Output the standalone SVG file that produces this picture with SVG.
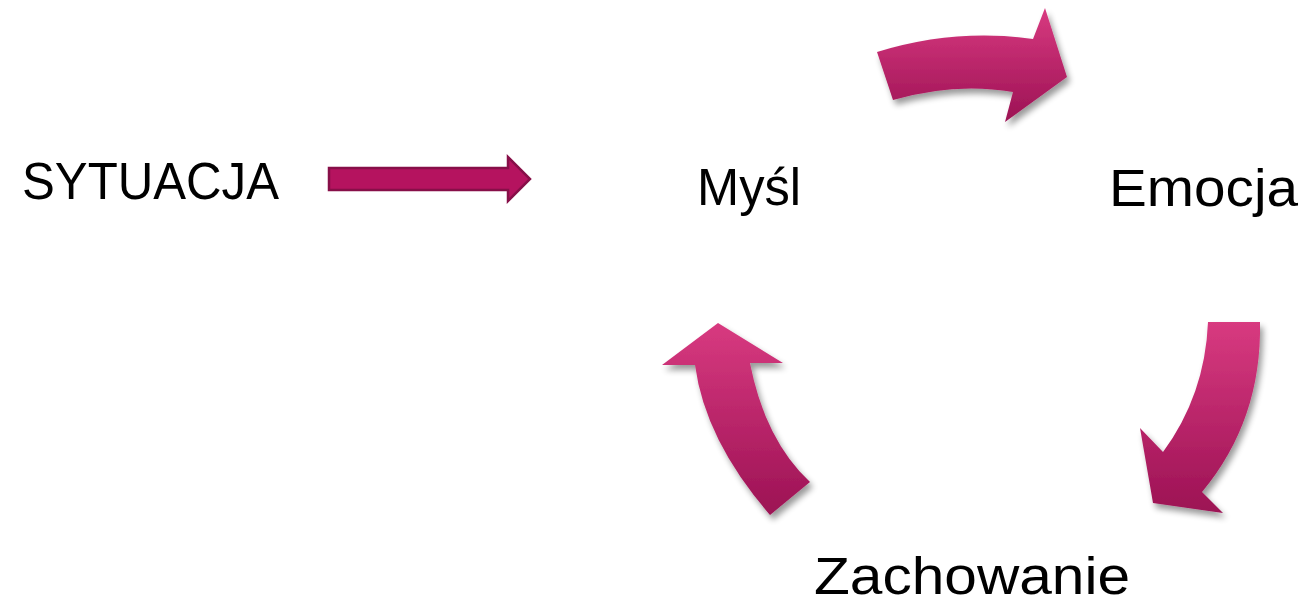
<svg xmlns="http://www.w3.org/2000/svg" width="1309" height="604" viewBox="0 0 1309 604">
<style>
.lbl{font-family:"Liberation Sans",Arial,sans-serif;font-size:51px;fill:#000}
.curv{fill:url(#pg);filter:url(#sh)}
.str{fill:#b5135f;stroke:#870f48;stroke-width:2.5}
</style>
<defs>
<linearGradient id="pg" x1="0" y1="0" x2="0" y2="1">
<stop offset="0" stop-color="#d83a80"/>
<stop offset="1" stop-color="#9c1254"/>
</linearGradient>
<filter id="sh" x="-20%" y="-20%" width="150%" height="150%">
<feGaussianBlur in="SourceAlpha" stdDeviation="3"/>
<feOffset dx="3" dy="5" result="b"/>
<feComponentTransfer><feFuncA type="linear" slope="0.4"/></feComponentTransfer>
<feMerge><feMergeNode/><feMergeNode in="SourceGraphic"/></feMerge>
</filter>
</defs>
<g id="n-sytuacja"><text class="lbl" x="22" y="199" textLength="257" lengthAdjust="spacingAndGlyphs">SYTUACJA</text></g>
<g id="n-mysl"><text class="lbl" x="697" y="205" textLength="104" lengthAdjust="spacingAndGlyphs">Myśl</text></g>
<g id="n-emocja"><text class="lbl" x="1109" y="206" textLength="189" lengthAdjust="spacingAndGlyphs">Emocja</text></g>
<g id="n-zachowanie"><text class="lbl" x="814" y="594" font-size="49" textLength="316" lengthAdjust="spacingAndGlyphs">Zachowanie</text></g>
<g id="connectors">
<path class="str" d="M329,168 L508,168 L508,157 L530,179 L508,201 L508,190 L329,190 Z"/>
<path class="curv" d="M877,52 Q955,28 1033,39 L1045,8 L1067,77 L1005,122 L1013,92 Q955,82 893,100 Z"/>
<path class="curv" d="M1208,322 L1260,322 Q1262,420 1202,492 L1223,513 L1153,503 L1140,428 L1163,452 Q1205,395 1208,322 Z"/>
<path class="curv" d="M718,323 L783,363 L750,363 Q765,440 810,482 L770,515 Q705,440 695,365 L662,365 Z"/>
</g>
</svg>
